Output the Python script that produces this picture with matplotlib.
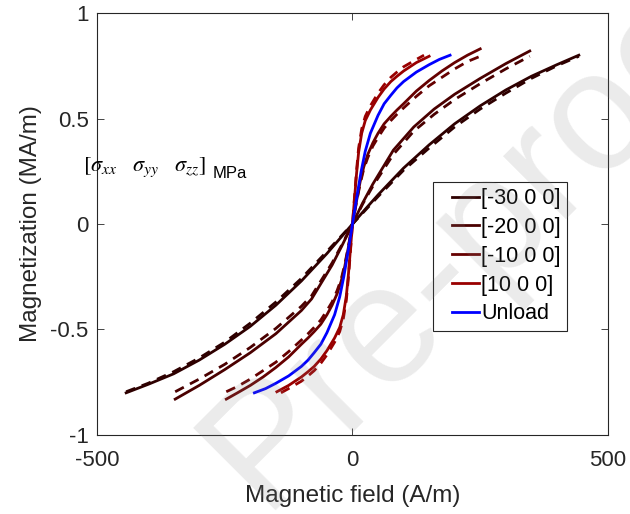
import numpy as np
import matplotlib
matplotlib.use("Agg")
import matplotlib.pyplot as plt
from matplotlib.legend_handler import HandlerLine2D

plt.rcParams['font.family'] = ['Liberation Sans', 'DejaVu Sans']
plt.rcParams['axes.unicode_minus'] = False
plt.rcParams['mathtext.fontset'] = 'stix'

# Kurwy magnesowania (H w A/m, M w MA/m)
H_m30 = [-443, -400, -350, -300, -250, -200, -150, -100, -50, -25, 0,
         25, 50, 100, 150, 200, 250, 300, 350, 400, 443]
M_m30 = [-0.80, -0.76, -0.71, -0.645, -0.57, -0.485, -0.385, -0.27, -0.14, -0.07, 0,
         0.07, 0.138, 0.265, 0.375, 0.475, 0.56, 0.635, 0.70, 0.755, 0.80]
M_m30_exp = [-0.795, -0.755, -0.70, -0.635, -0.56, -0.47, -0.37, -0.258, -0.13, -0.065, 0,
             0.065, 0.13, 0.255, 0.36, 0.46, 0.545, 0.62, 0.69, 0.75, 0.795]

H_m20 = [-347, -300, -250, -200, -150, -100, -80, -40, -20, 0,
         20, 40, 80, 120, 160, 200, 250, 300, 347]
M_m20 = [-0.83, -0.765, -0.69, -0.61, -0.52, -0.41, -0.355, -0.195, -0.10, 0,
         0.10, 0.19, 0.35, 0.46, 0.545, 0.615, 0.69, 0.76, 0.82]
M_m20_exp = [-0.795, -0.735, -0.665, -0.585, -0.495, -0.39, -0.34, -0.185, -0.095, 0,
             0.095, 0.18, 0.33, 0.44, 0.52, 0.59, 0.665, 0.735, 0.795]

H_m10 = [-247, -225, -200, -175, -150, -125, -100, -87, -75, -62, -50, -40, -30, -22, -15, -8, 0,
         8, 15, 22, 30, 40, 50, 62, 75, 87, 100, 125, 150, 175, 200, 225, 250]
M_m10 = [-0.83, -0.80, -0.765, -0.725, -0.68, -0.63, -0.57, -0.54, -0.51, -0.475, -0.43, -0.385,
         -0.33, -0.27, -0.20, -0.11, 0,
         0.11, 0.20, 0.27, 0.33, 0.385, 0.43, 0.475, 0.51, 0.54, 0.57, 0.63, 0.68, 0.725,
         0.765, 0.80, 0.83]
M_m10_exp = [-0.795, -0.77, -0.735, -0.695, -0.655, -0.605, -0.55, -0.52, -0.49, -0.455, -0.41,
             -0.37, -0.315, -0.26, -0.19, -0.105, 0,
             0.105, 0.19, 0.26, 0.315, 0.37, 0.41, 0.455, 0.49, 0.52, 0.55, 0.605, 0.655,
             0.695, 0.735, 0.77, 0.795]

H_p10 = [-148, -125, -100, -87, -75, -62, -50, -35, -25, -18, -12, -8, -4, 0,
         4, 8, 12, 18, 25, 35, 50, 62, 75, 87, 100, 125, 150]
M_p10 = [-0.795, -0.765, -0.725, -0.70, -0.675, -0.64, -0.60, -0.54, -0.49, -0.43, -0.34, -0.24,
         -0.12, 0,
         0.12, 0.24, 0.34, 0.43, 0.49, 0.54, 0.60, 0.64, 0.675, 0.70, 0.725, 0.765, 0.795]
H_p10_exp = [-140, -125, -100, -87, -75, -62, -50, -35, -25, -18, -12, -8, -4, 0,
             4, 8, 12, 18, 25, 35, 50, 62, 75, 87, 100, 125, 140]
M_p10_exp = [-0.80, -0.78, -0.745, -0.72, -0.695, -0.66, -0.62, -0.56, -0.51, -0.45, -0.36,
             -0.255, -0.13, 0,
             0.13, 0.255, 0.36, 0.45, 0.51, 0.56, 0.62, 0.66, 0.695, 0.72, 0.745, 0.78, 0.80]

H_unl = [-192, -170, -150, -125, -100, -87, -75, -62, -50, -35, -25, -17, -10, -5, 0,
         5, 10, 17, 25, 35, 50, 62, 75, 87, 100, 125, 150, 170, 191]
M_unl = [-0.80, -0.78, -0.755, -0.72, -0.675, -0.645, -0.61, -0.57, -0.515, -0.43, -0.345,
         -0.25, -0.15, -0.075, 0,
         0.075, 0.15, 0.25, 0.345, 0.43, 0.515, 0.57, 0.61, 0.645, 0.675, 0.72, 0.755, 0.78, 0.80]

labels = ['[-30 0 0]', '[-20 0 0]', '[-10 0 0]', '[10 0 0]', 'Unload']
kolory = ['#2e0000', '#4a0000', '#660000', '#990000', '#0000ff']


# krotsza linia w legendzie (jak w MATLAB-ie)
class KrotkaLinia(HandlerLine2D):
    def get_xdata(self, legend, xdescent, ydescent, width, height, fontsize):
        xd = np.array([-xdescent + 0.3 * width, -xdescent + width])
        return xd, xd


fig = plt.figure(figsize=(6.3, 5.14), dpi=100)
ax = fig.add_axes([0.154, 0.1537, 0.811, 0.821])

krzywe = [(H_m30, M_m30, H_m30, M_m30_exp),
          (H_m20, M_m20, H_m20, M_m20_exp),
          (H_m10, M_m10, H_m10, M_m10_exp),
          (H_p10, M_p10, H_p10_exp, M_p10_exp)]

handles = []
for (h, m, he, me), kol, lab in zip(krzywe, kolory, labels):
    ln, = ax.plot(h, m, color=kol, lw=2, label=lab)
    ax.plot(he, me, color=kol, lw=2, linestyle=(0, (3.5, 2.5)))
    handles.append(ln)
ln, = ax.plot(H_unl, M_unl, color=kolory[4], lw=2, label=labels[4])
handles.append(ln)

ax.set_xlim(-500, 500)
ax.set_ylim(-1, 1)
ax.set_xticks([-500, 0, 500])
ax.set_yticks([-1, -0.5, 0, 0.5, 1])
ax.set_yticklabels(['-1', '-0.5', '0', '0.5', '1'])
ax.tick_params(direction='in', top=True, right=True, length=5, width=0.6,
               labelsize=16, colors='#262626')
ax.tick_params(axis='x', pad=11)
ax.tick_params(axis='y', pad=6)
for s in ax.spines.values():
    s.set_color('#262626')
    s.set_linewidth(0.8)

ax.set_xlabel('Magnetic field (A/m)', fontsize=17.5, color='#262626', labelpad=10)
ax.set_ylabel('Magnetization (MA/m)', fontsize=17.5, color='#262626', labelpad=6)

ax.text(-527, 0.267, r'$[\sigma_{xx}\ \ \ \sigma_{yy}\ \ \ \sigma_{zz}]$',
        fontsize=16, va='center', ha='left', clip_on=False)
ax.text(-273, 0.24, 'MPa', fontsize=12, va='center', ha='left')

leg = ax.legend(handles=handles, loc='upper left', bbox_to_anchor=(0.658, 0.6),
                handler_map={h: KrotkaLinia() for h in handles},
                fontsize=15.5, handlelength=1.85, handletextpad=0.08, borderpad=0.3,
                labelspacing=0.36, borderaxespad=0, fancybox=False, framealpha=1)
leg.get_frame().set_edgecolor('#262626')
leg.get_frame().set_linewidth(0.8)

# znak wodny
fig.text(0.762, 0.553, 'Pre-proof', fontsize=122, rotation=45, color='#808080',
         alpha=0.16, ha='center', va='center', zorder=10)

fig.savefig('out.png', dpi=100)
